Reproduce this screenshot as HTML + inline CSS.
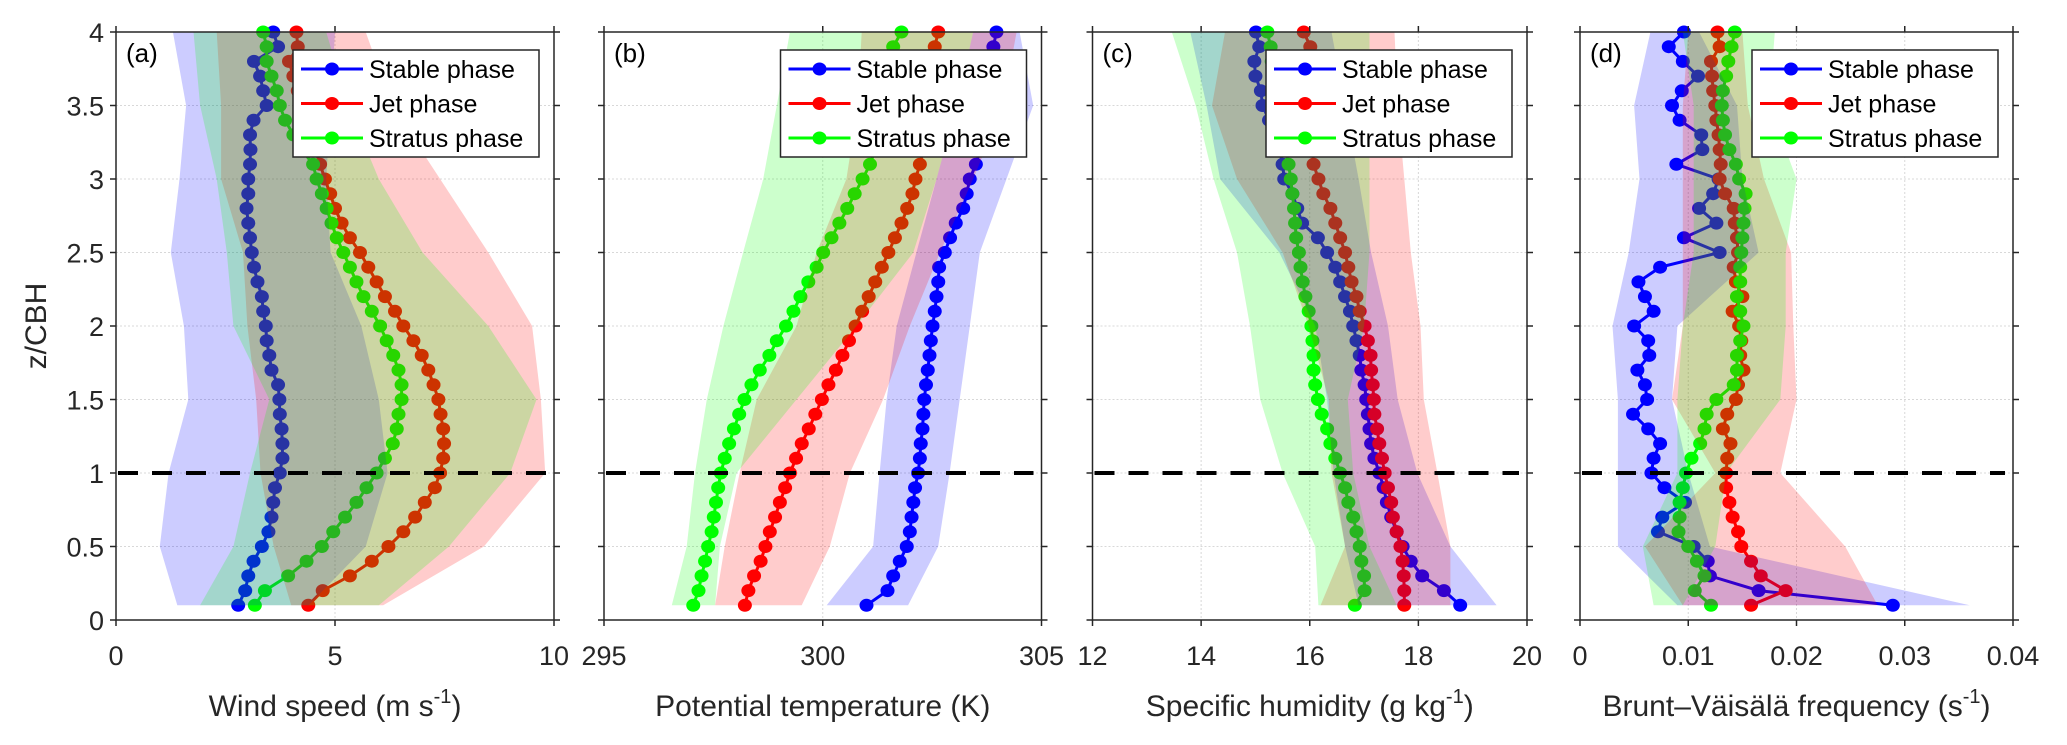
<!DOCTYPE html>
<html><head><meta charset="utf-8">
<style>
html,body{margin:0;padding:0;background:#fff;}
svg{display:block;font-family:"Liberation Sans",Arial,sans-serif;}
</style></head>
<body>
<svg id="fig" width="2067" height="745" viewBox="0 0 2067 745" xmlns="http://www.w3.org/2000/svg"></svg>
<script>
// ---- shared data ----
const zLevels = [0.1,0.2,0.3,0.4,0.5,0.6,0.7,0.8,0.9,1.0,1.1,1.2,1.3,1.4,1.5,1.6,1.7,1.8,1.9,2.0,2.1,2.2,2.3,2.4,2.5,2.6,2.7,2.8,2.9,3.0,3.1,3.2,3.3,3.4,3.5,3.6,3.7,3.8,3.9,4.0];
const bandZ = [0.1,0.5,1.0,1.5,2.0,2.5,3.0,3.5,4.0];
const seriesNames = ["Stable phase","Jet phase","Stratus phase"];
const yTicks = [0,0.5,1,1.5,2,2.5,3,3.5,4];
const yTickLabels = ["0","0.5","1","1.5","2","2.5","3","3.5","4"];
const cbhLevel = 1;

// ---- panel (a) wind speed ----
const windTicks = [0,5,10];
const windStable = [2.79,2.95,3.02,3.14,3.33,3.48,3.55,3.59,3.63,3.74,3.8,3.8,3.78,3.74,3.73,3.7,3.55,3.5,3.44,3.42,3.36,3.33,3.23,3.15,3.1,3.06,3.02,2.98,3.02,3.02,3.06,3.07,3.06,3.14,3.44,3.36,3.29,3.15,3.7,3.59];
const windJet = [4.39,4.72,5.34,5.84,6.22,6.56,6.83,7.05,7.28,7.4,7.47,7.49,7.47,7.41,7.36,7.25,7.13,6.98,6.79,6.56,6.37,6.14,5.95,5.76,5.57,5.34,5.15,5.0,4.89,4.77,4.66,4.55,4.45,4.35,4.25,4.15,4.05,3.95,4.15,4.12];
const windStratus = [3.17,3.4,3.93,4.35,4.7,4.96,5.23,5.49,5.72,5.95,6.14,6.32,6.41,6.45,6.52,6.52,6.45,6.33,6.18,6.03,5.84,5.65,5.49,5.34,5.19,5.04,4.92,4.81,4.7,4.58,4.5,4.24,4.05,3.86,3.74,3.67,3.55,3.44,3.44,3.36];
const windStableLo = [1.4,1.0,1.2,1.65,1.55,1.25,1.45,1.6,1.3];
const windStableHi = [4.4,5.7,6.2,6.0,5.6,4.9,4.8,4.9,5.0];
const windJetLo = [4.0,3.6,3.3,3.2,3.0,2.9,2.4,2.4,2.3];
const windJetHi = [6.1,8.4,9.8,9.7,9.5,8.5,7.4,6.3,5.7];
const windStratusLo = [1.92,2.68,3.06,3.5,2.68,2.53,2.3,1.92,1.77];
const windStratusHi = [6.0,7.6,9.0,9.6,8.5,7.0,6.0,5.3,4.8];

// ---- panel (b) potential temperature ----
const thetaTicks = [295,300,305];
const thetaStable = [301.0,301.48,301.61,301.76,301.92,301.99,302.03,302.07,302.11,302.18,302.22,302.24,302.28,302.3,302.32,302.36,302.4,302.44,302.47,302.51,302.56,302.6,302.64,302.66,302.79,302.91,303.04,303.21,303.29,303.36,303.5,303.6,303.65,303.7,303.75,303.8,303.85,303.88,303.9,303.97];
const thetaJet = [298.22,298.3,298.43,298.58,298.69,298.79,298.91,299.02,299.14,299.25,299.39,299.52,299.68,299.83,299.98,300.13,300.3,300.45,300.6,300.75,300.9,301.05,301.2,301.35,301.5,301.65,301.8,301.93,302.05,302.12,302.22,302.3,302.35,302.4,302.45,302.5,302.52,302.55,302.56,302.64];
const thetaStratus = [297.04,297.16,297.23,297.31,297.38,297.46,297.51,297.56,297.61,297.67,297.76,297.86,297.97,298.09,298.21,298.37,298.56,298.78,298.95,299.16,299.33,299.49,299.67,299.86,300.01,300.2,300.38,300.56,300.73,300.91,301.08,301.2,301.25,301.3,301.35,301.4,301.45,301.5,301.61,301.8];
const thetaStableLo = [300.09,301.15,301.3,301.46,301.69,302.14,302.6,303.06,303.44];
const thetaStableHi = [301.95,302.64,302.9,303.13,303.36,303.59,304.2,304.81,304.5];
const thetaJetLo = [297.54,297.76,298.1,298.49,299.4,299.86,300.54,300.8,300.89];
const thetaJetHi = [299.52,300.16,300.62,301.38,301.99,302.68,303.44,304.12,304.43];
const thetaStratusLo = [296.55,296.89,297.08,297.35,297.73,298.18,298.64,298.95,299.25];
const thetaStratusHi = [297.54,297.65,298.03,299.4,300.77,302.07,302.6,303.06,303.44];

// ---- panel (c) specific humidity ----
const qTicks = [12,14,16,18,20];
const qStable = [18.77,18.47,18.07,17.86,17.71,17.6,17.5,17.42,17.36,17.28,17.19,17.13,17.1,17.07,17.04,17.01,16.95,16.92,16.86,16.8,16.74,16.65,16.56,16.47,16.32,16.15,15.86,15.77,15.68,15.53,15.5,15.45,15.35,15.25,15.13,15.1,15.0,14.98,15.07,15.01];
const qJet = [17.74,17.74,17.73,17.71,17.67,17.6,17.53,17.5,17.44,17.38,17.33,17.28,17.24,17.19,17.18,17.16,17.13,17.12,17.07,17.01,16.92,16.86,16.77,16.71,16.65,16.56,16.47,16.38,16.25,16.16,16.07,16.05,16.03,16.0,15.98,15.96,15.95,15.95,16.01,15.89];
const qStratus = [16.83,17.01,17.0,16.95,16.92,16.86,16.8,16.71,16.65,16.56,16.47,16.38,16.32,16.22,16.15,16.1,16.07,16.07,16.05,16.03,15.98,15.92,15.87,15.83,15.8,15.75,15.73,15.71,15.68,15.65,15.61,15.55,15.5,15.45,15.4,15.36,15.33,15.3,15.28,15.22];
const qStableLo = [16.9,16.65,16.44,16.32,16.1,15.44,14.35,14.1,13.8];
const qStableHi = [19.44,18.59,17.98,17.62,17.44,17.13,16.9,16.65,16.4];
const qJetLo = [16.2,16.65,16.4,16.35,15.98,15.5,14.66,14.2,14.44];
const qJetHi = [18.59,18.59,18.35,18.1,18.04,17.86,17.74,17.62,17.56];
const qStratusLo = [16.16,16.1,15.5,15.09,14.9,14.66,14.23,13.9,13.46];
const qStratusHi = [17.6,17.1,16.8,16.7,17.0,17.1,17.1,17.1,17.1];

// ---- panel (d) Brunt-Vaisala frequency ----
const nTicks = [0,0.01,0.02,0.03,0.04];
const nTickLabels = ["0","0.01","0.02","0.03","0.04"];
const nStable = [0.0289,0.0165,0.012,0.0118,0.0105,0.0072,0.0076,0.0097,0.0078,0.0066,0.0068,0.0074,0.0063,0.0049,0.0062,0.006,0.0053,0.0064,0.0063,0.005,0.0068,0.006,0.0054,0.0074,0.0129,0.0096,0.0126,0.011,0.0123,0.0128,0.0089,0.0113,0.0112,0.0092,0.0085,0.0094,0.0109,0.0095,0.0082,0.0096];
const nJet = [0.0158,0.019,0.0167,0.0158,0.0149,0.0146,0.0141,0.0138,0.0135,0.0135,0.0136,0.0139,0.0132,0.0136,0.0144,0.0146,0.0151,0.0148,0.0149,0.0147,0.0141,0.015,0.0144,0.0142,0.0146,0.0145,0.0143,0.0142,0.0134,0.0129,0.013,0.0129,0.0128,0.0126,0.0125,0.0123,0.0122,0.0121,0.0129,0.0127];
const nStratus = [0.0121,0.0106,0.0115,0.0108,0.01,0.0091,0.0092,0.0092,0.0095,0.0098,0.0103,0.0111,0.0115,0.0117,0.0126,0.0142,0.0145,0.0145,0.0148,0.0151,0.0148,0.0145,0.0148,0.0148,0.0149,0.015,0.0151,0.0152,0.0153,0.0147,0.0144,0.0138,0.0134,0.0132,0.0131,0.0132,0.0135,0.0137,0.014,0.0143];
const nStableLo = [0.009,0.0035,0.0035,0.0035,0.003,0.0045,0.0055,0.005,0.0065];
const nStableHi = [0.036,0.012,0.01,0.0085,0.009,0.0165,0.015,0.0145,0.011];
const nJetLo = [0.0095,0.006,0.0125,0.0085,0.0095,0.0095,0.0095,0.0095,0.01];
const nJetHi = [0.0275,0.0245,0.0185,0.02,0.0197,0.0195,0.017,0.0155,0.015];
const nStratusLo = [0.0068,0.0058,0.009,0.009,0.0095,0.0105,0.0105,0.0105,0.0095];
const nStratusHi = [0.0095,0.0125,0.0135,0.0185,0.019,0.019,0.02,0.0175,0.018];

// ---- rendering ----
const NS = "http://www.w3.org/2000/svg";
const svg = document.getElementById("fig");
const TOP = 32, BOTTOM = 620;
const COLORS = ["#0000ff","#ff0000","#00ff00"];
const FILLS = ["rgba(0,0,255,0.2)","rgba(255,0,0,0.2)","rgba(0,255,0,0.2)"];
function el(tag, attrs, parent){
  const e = document.createElementNS(NS, tag);
  for (const k in attrs) e.setAttribute(k, attrs[k]);
  (parent||svg).appendChild(e);
  return e;
}
function yScale(z){ return BOTTOM - (z - 0) / 4 * (BOTTOM - TOP); }

const panels = [
  {key:"wind", label:"(a)", x0:116, x1:554, min:0, max:10, ticks:windTicks, tickLabels:windTicks.map(String),
   series:[windStable,windJet,windStratus], lo:[windStableLo,windJetLo,windStratusLo], hi:[windStableHi,windJetHi,windStratusHi],
   title:"Wind speed (m s", sup:"-1", tail:")", ylabels:true},
  {key:"theta", label:"(b)", x0:604, x1:1041.5, min:295, max:305, ticks:thetaTicks, tickLabels:thetaTicks.map(String),
   series:[thetaStable,thetaJet,thetaStratus], lo:[thetaStableLo,thetaJetLo,thetaStratusLo], hi:[thetaStableHi,thetaJetHi,thetaStratusHi],
   title:"Potential temperature (K)", sup:"", tail:"", ylabels:false},
  {key:"humidity", label:"(c)", x0:1092.5, x1:1527, min:12, max:20, ticks:qTicks, tickLabels:qTicks.map(String),
   series:[qStable,qJet,qStratus], lo:[qStableLo,qJetLo,qStratusLo], hi:[qStableHi,qJetHi,qStratusHi],
   title:"Specific humidity (g kg", sup:"-1", tail:")", ylabels:false},
  {key:"brunt", label:"(d)", x0:1580, x1:2013, min:0, max:0.04, ticks:nTicks, tickLabels:nTickLabels,
   series:[nStable,nJet,nStratus], lo:[nStableLo,nJetLo,nStratusLo], hi:[nStableHi,nJetHi,nStratusHi],
   title:"Brunt\u2013V\u00e4is\u00e4l\u00e4 frequency (s", sup:"-1", tail:")", ylabels:false}
];

const ylab = el("text",{x:46,y:326,"font-size":30,fill:"#262626","text-anchor":"middle",transform:"rotate(-90 46 326)"});
ylab.textContent = "z/CBH";



panels.forEach(p => {
  const xs = v => p.x0 + (v - p.min) / (p.max - p.min) * (p.x1 - p.x0);
  const g = el("g",{});
  
  
  p.ticks.forEach(t => {
    const gl = el("line",{x1:xs(t),x2:xs(t),y1:TOP,y2:BOTTOM,stroke:"#d8d8d8","stroke-width":1,"stroke-dasharray":"2 2"},g);
    
    
  });
  yTicks.forEach(t => {
    const gl = el("line",{x1:p.x0,x2:p.x1,y1:yScale(t),y2:yScale(t),stroke:"#d8d8d8","stroke-width":1,"stroke-dasharray":"2 2"},g);
    
    
  });
  p.series.forEach((s, si) => {
    const pts = s.map((v,i) => xs(v).toFixed(1) + "," + yScale(zLevels[i]).toFixed(1)).join(" ");
    const pl = el("polyline",{points:pts,fill:"none",stroke:COLORS[si],"stroke-width":3},g);
    
    
    s.forEach((v,i) => {
      const c = el("ellipse",{cx:xs(v),cy:yScale(zLevels[i]),rx:7,ry:6.5,fill:COLORS[si]},g);
      
      
    });
  });
  p.lo.forEach((lo, si) => {
    const hi = p.hi[si];
    const left = lo.map((v,i) => xs(v).toFixed(1) + "," + yScale(bandZ[i]).toFixed(1));
    const right = hi.map((v,i) => xs(v).toFixed(1) + "," + yScale(bandZ[i]).toFixed(1)).reverse();
    const poly = el("polygon",{points:left.concat(right).join(" "),fill:FILLS[si],stroke:"none"},g);
    
    
  });
  const dl = el("line",{x1:p.x0+2,x2:p.x1-8,y1:yScale(cbhLevel),y2:yScale(cbhLevel),stroke:"#000","stroke-width":4,"stroke-dasharray":"20 14"},g);
  
  
  const box = el("rect",{x:p.x0,y:TOP,width:p.x1-p.x0,height:BOTTOM-TOP,fill:"none",stroke:"#262626","stroke-width":1.5},g);
  
  
  p.ticks.forEach((t,i) => {
    el("line",{x1:xs(t),x2:xs(t),y1:BOTTOM,y2:BOTTOM+6,stroke:"#262626","stroke-width":1.5},g);
    el("line",{x1:xs(t),x2:xs(t),y1:TOP,y2:TOP-6,stroke:"#262626","stroke-width":1.5},g);
    const tl = el("text",{x:xs(t),y:665,"font-size":27,fill:"#262626","text-anchor":"middle"},g);
    tl.textContent = p.tickLabels[i];
    
    
  });
  yTicks.forEach((t,i) => {
    el("line",{x1:p.x0-6,x2:p.x0,y1:yScale(t),y2:yScale(t),stroke:"#262626","stroke-width":1.5},g);
    el("line",{x1:p.x1,x2:p.x1+6,y1:yScale(t),y2:yScale(t),stroke:"#262626","stroke-width":1.5},g);
    if (p.ylabels){
      const tl = el("text",{x:p.x0-12,y:yScale(t)+10,"font-size":27,fill:"#262626","text-anchor":"end"},g);
      tl.textContent = yTickLabels[i];
      
      
    }
  });
  const pl = el("text",{x:p.x0+10,y:62,"font-size":26,fill:"#000"},g);
  pl.textContent = p.label;
  
  
  const xt = el("text",{x:(p.x0+p.x1)/2,y:716,"font-size":30,fill:"#262626","text-anchor":"middle"},g);
  
  
  const t1 = el("tspan",{},xt); t1.textContent = p.title;
  if (p.sup){
    const t2 = el("tspan",{dy:-13,"font-size":20},xt); t2.textContent = p.sup;
    const t3 = el("tspan",{dy:13},xt); t3.textContent = p.tail;
  }
  const lw = 246, lh = 107, lx = p.x1 - 15 - lw, ly = 50;
  const lg = el("g",{},g);
  
  
  el("rect",{x:lx,y:ly,width:lw,height:lh,fill:"#fff",stroke:"#262626","stroke-width":1.5},lg);
  seriesNames.forEach((n,si) => {
    const yy = ly + 19 + si*34.5;
    const entry = el("g",{},lg);
    
    
    el("line",{x1:lx+8,x2:lx+70,y1:yy,y2:yy,stroke:COLORS[si],"stroke-width":3},entry);
    el("ellipse",{cx:lx+39,cy:yy,rx:7,ry:6.5,fill:COLORS[si]},entry);
    const tx = el("text",{x:lx+76,y:yy+9,"font-size":25,fill:"#000"},entry);
    tx.textContent = n;
  });
});
</script>
</body></html>
